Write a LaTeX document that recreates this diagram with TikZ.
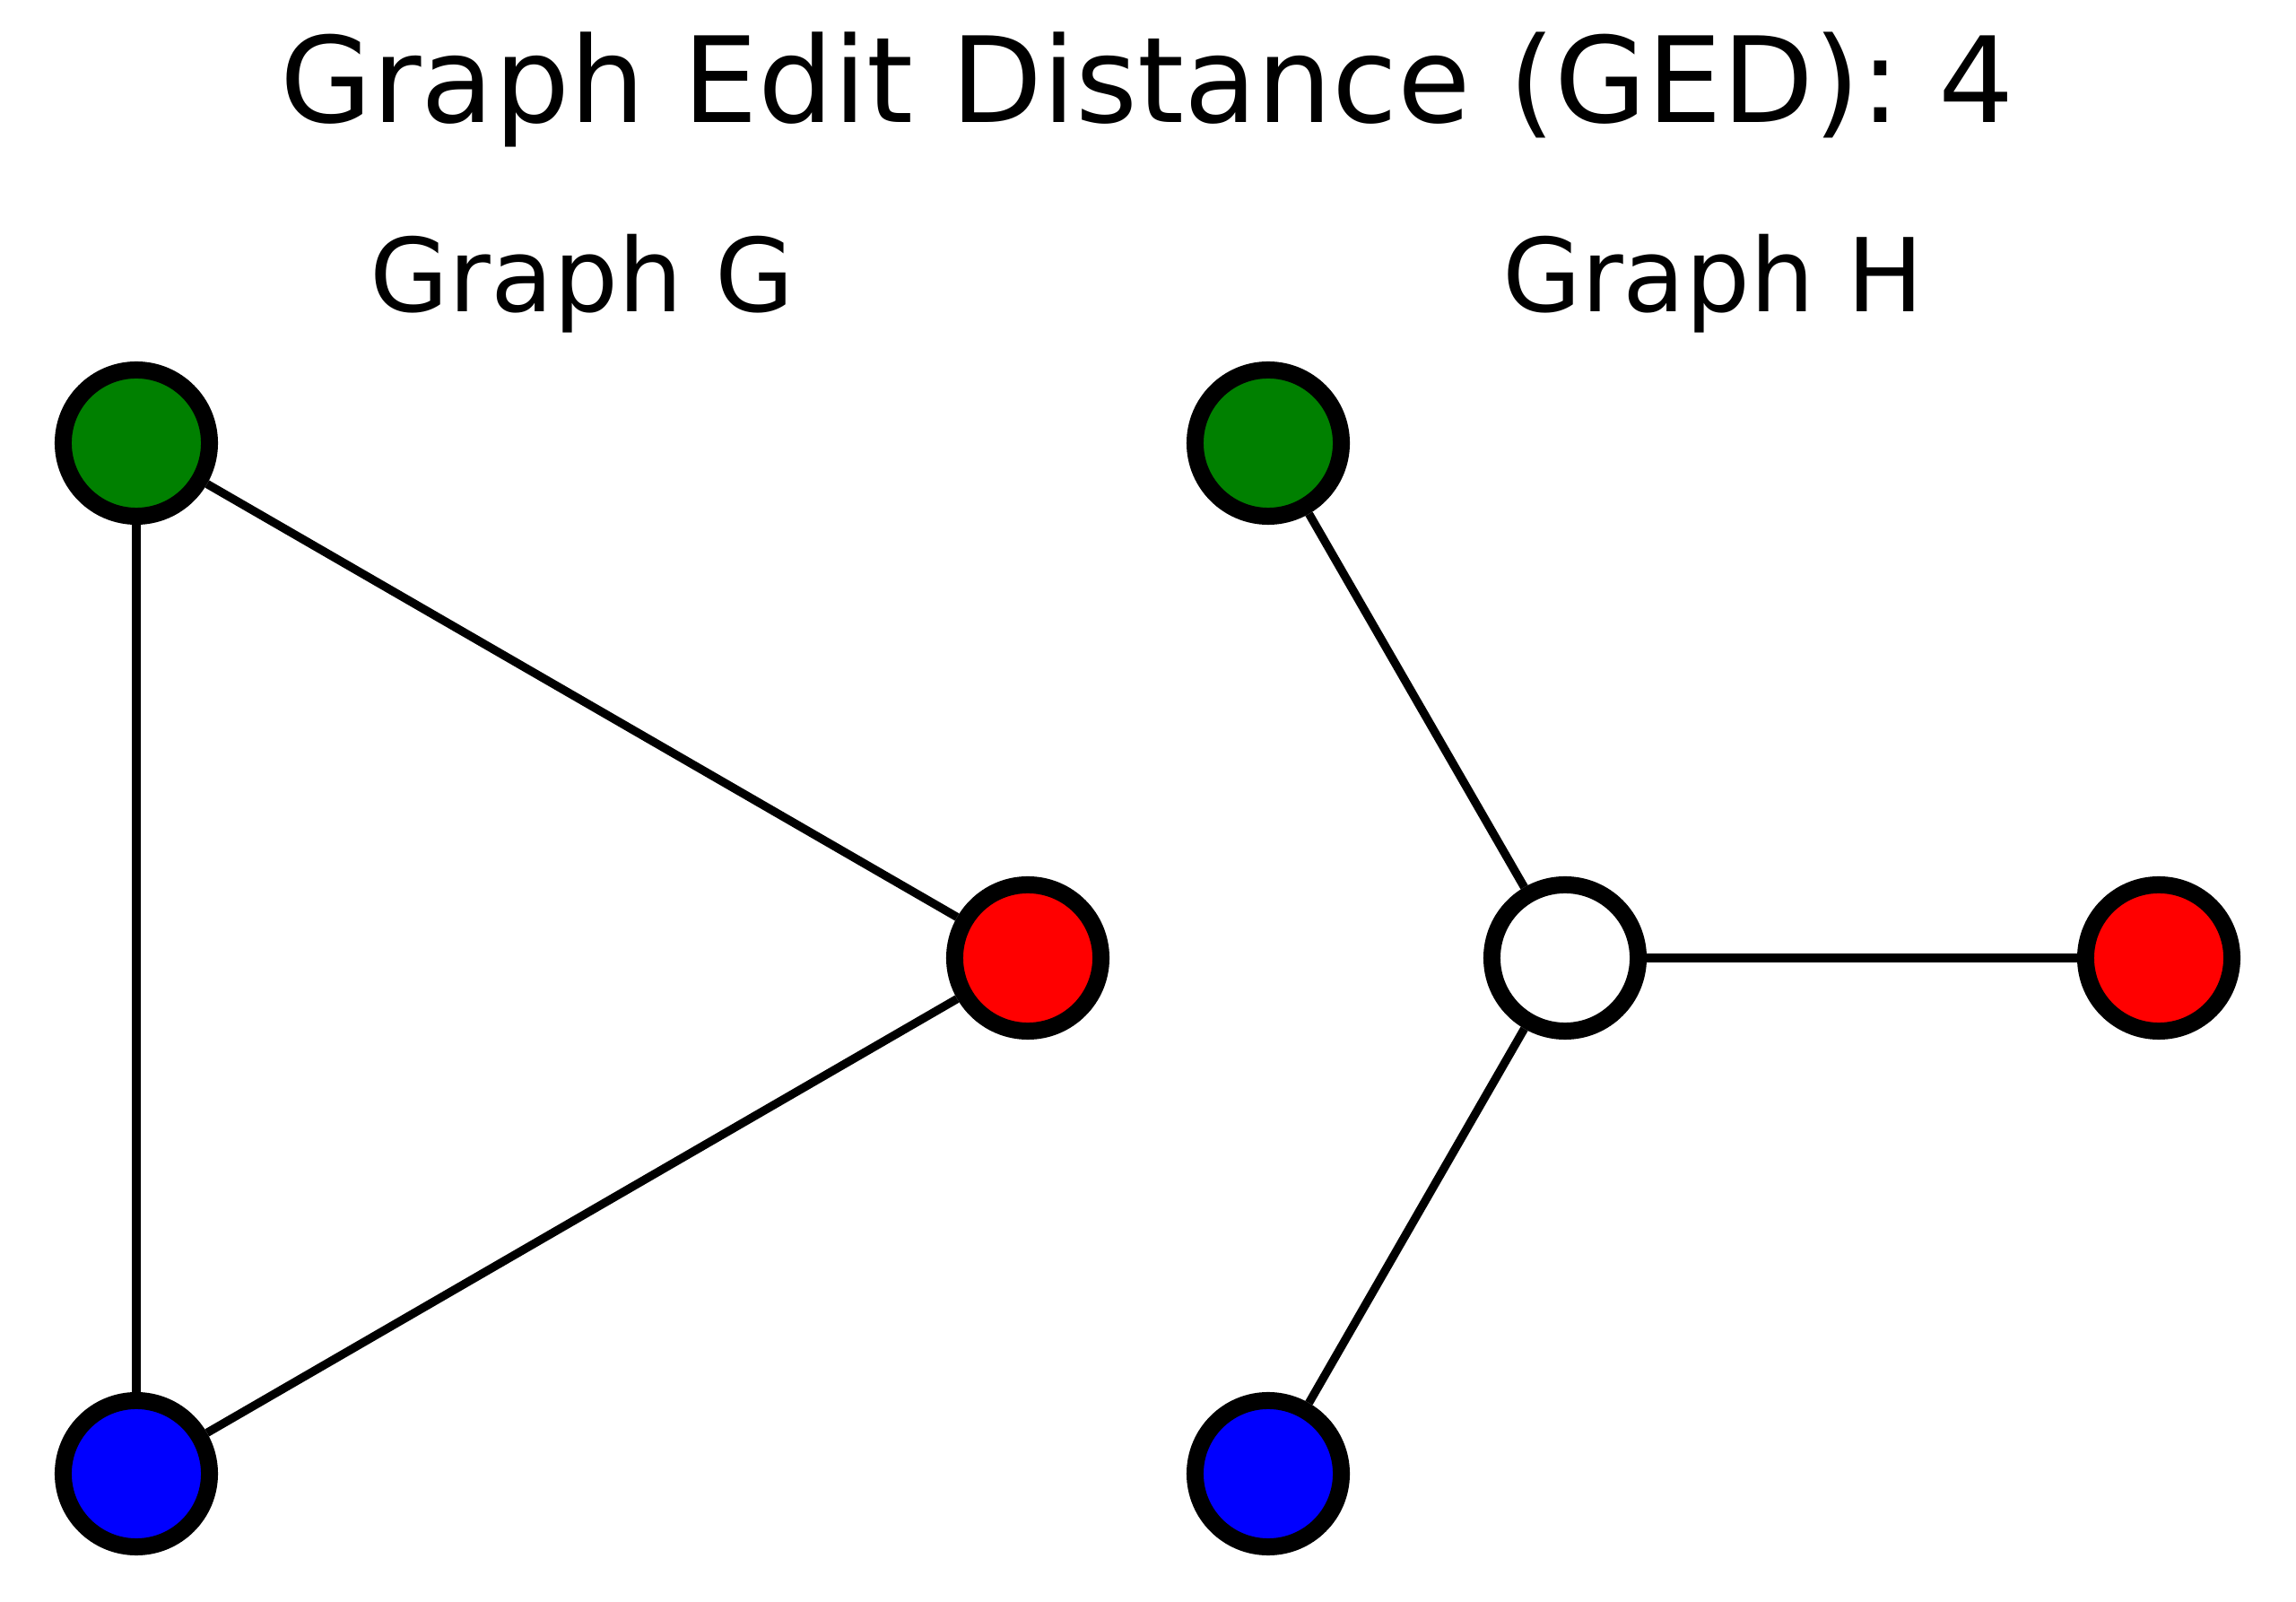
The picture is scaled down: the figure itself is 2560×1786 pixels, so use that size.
\documentclass[tikz,border=0pt]{standalone}
\usepackage{fontspec}
\setmainfont{DejaVu Sans}
\usepackage{tikz}
\usetikzlibrary{positioning}

\definecolor{gedgreen}{HTML}{008000}
\definecolor{gedred}{HTML}{FF0000}
\definecolor{gedblue}{HTML}{0000FF}

\begin{document}
\begin{tikzpicture}[
                    x=0.01cm, y=-0.01cm,
                    vertex/.style={draw=black, circle, line width=5.4pt, minimum size=1.63cm, inner sep=0pt},
                    link/.style={draw=black, line width=2.65pt},
                    titletext/.style={anchor=base, font=\fontsize{37.7}{45}\selectfont},
                    graphtext/.style={anchor=base, font=\fontsize{32.3}{39}\selectfont}
                ]
                    \useasboundingbox (0,0) rectangle (2560,1786);
                    \node[titletext] (title) at (1279,137) {Graph Edit Distance (GED): 4};

                    % graph G
                    \node[graphtext] (labelG) at (649,348) {Graph G};
                    \node[vertex, fill=gedgreen] (g1) at (152,494) {};
                    \node[vertex, fill=gedred] (g2) at (1146,1068) {};
                    \node[vertex, fill=gedblue] (g3) at (152,1643) {};
                    \draw[link] (g1) -- (g2);
                    \draw[link] (g2) -- (g3);
                    \draw[link] (g1) -- (g3);

                    % graph H
                    \node[graphtext] (labelH) at (1910,348) {Graph H};
                    \node[vertex, fill=gedgreen] (h1) at (1414,494) {};
                    \node[vertex, fill=white] (h0) at (1745,1068) {};
                    \node[vertex, fill=gedred] (h2) at (2407,1068) {};
                    \node[vertex, fill=gedblue] (h3) at (1414,1643) {};
                    \draw[link] (h0) -- (h1);
                    \draw[link] (h0) -- (h2);
                    \draw[link] (h0) -- (h3);
                \end{tikzpicture}
\end{document}
